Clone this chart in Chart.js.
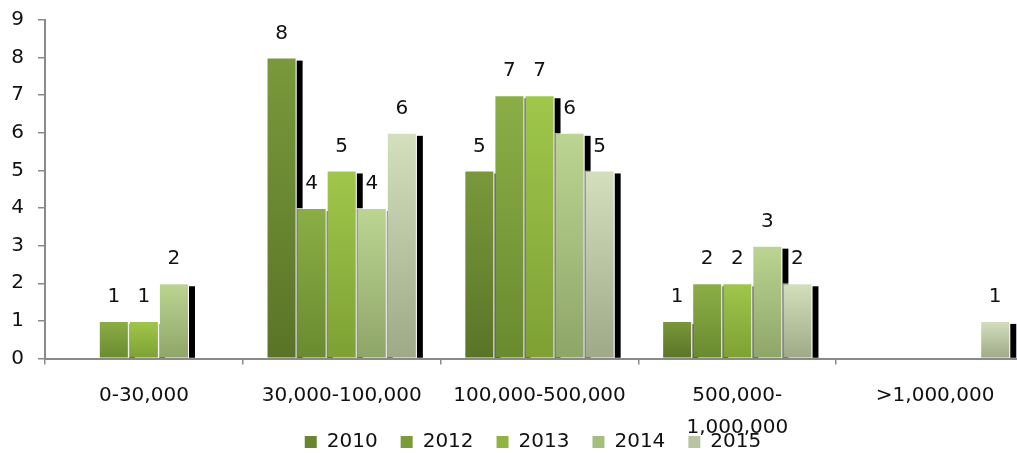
<!DOCTYPE html>
<html><head><meta charset="utf-8">
<script src="https://cdn.jsdelivr.net/npm/chart.js@4.4.0/dist/chart.umd.min.js"></script>
<style>
html,body{margin:0;padding:0;overflow:hidden;background:#fff;width:1017px;height:453px}
#wrap{position:relative;width:1060px;height:453px}
</style></head><body>
<div id="wrap"><canvas id="c"></canvas></div>
<script>
// ---- data ----
const categories = ['0-30,000', '30,000-100,000', '100,000-500,000', ['500,000-', '1,000,000'], '>1,000,000'];
const seriesNames = ['2010', '2012', '2013', '2014', '2015'];
const v2010 = [null, 8, 5, 1, null];
const v2012 = [1, 4, 7, 2, null];
const v2013 = [1, 5, 7, 2, null];
const v2014 = [2, 4, 6, 3, null];
const v2015 = [null, 6, 5, 2, 1];
const yTickMin = 0, yTickMax = 9, yTickStep = 1;

// ---- styles ----
const FONT = 'DejaVu Sans';
const FS = 20;
const topColors = ['#79993b', '#8cae46', '#a0c74b', '#bcd592', '#d4e0bd'];
const botColors = ['#5a7427', '#6a8a2f', '#7ea034', '#8ea568', '#9eaa87'];
const midColors = ['#69862f', '#7b9c3b', '#8fb440', '#a5bd7d', '#b9c5a2'];
const seriesValues = [v2010, v2012, v2013, v2014, v2015];

function gradFor(i) {
  return (ctx) => {
    if (ctx.type !== 'data') return midColors[i];
    const chart = ctx.chart;
    if (!chart.chartArea || ctx.raw == null) return midColors[i];
    const ys = chart.scales.y;
    const top = ys.getPixelForValue(ctx.raw);
    const base = ys.getPixelForValue(0);
    if (!isFinite(top) || !isFinite(base) || top === base) return midColors[i];
    const g = chart.ctx.createLinearGradient(0, top, 0, base);
    g.addColorStop(0, topColors[i]);
    g.addColorStop(1, botColors[i]);
    return g;
  };
}

const shadowPlugin = {
  id: 'barShadow',
  beforeDatasetsDraw(chart) {
    const ctx = chart.ctx;
    ctx.save();
    ctx.fillStyle = '#000';
    chart.data.datasets.forEach((ds, i) => {
      const meta = chart.getDatasetMeta(i);
      meta.data.forEach((el, j) => {
        if (ds.data[j] == null) return;
        const right = el.x + el.width / 2;
        ctx.fillRect(right, el.y + 3, 6, el.base - el.y - 3);
      });
    });
    ctx.restore();
  }
};

const labelPlugin = {
  id: 'valueLabels',
  afterDatasetsDraw(chart) {
    const ctx = chart.ctx;
    ctx.save();
    ctx.font = FS + 'px "' + FONT + '"';
    ctx.fillStyle = '#111';
    ctx.textAlign = 'center';
    ctx.textBaseline = 'middle';
    chart.data.datasets.forEach((ds, i) => {
      const meta = chart.getDatasetMeta(i);
      meta.data.forEach((el, j) => {
        const v = ds.data[j];
        if (v == null) return;
        ctx.fillText(String(v), el.x, el.y - 24);
      });
    });
    ctx.restore();
  }
};

const layoutTweak = {
  id: 'layoutTweak',
  afterLayout(chart) {
    const l = chart.legend;
    if (l) {
      const dx = 16, dy = 9;
      l.left += dx; l.right += dx; l.top += dy; l.bottom += dy;
    }
    // let the wrapped category label run past the axis box (it overlaps the legend as in the original)
    if (chart.scales.x) chart.scales.x.bottom = chart.height;
  }
};

new Chart(document.getElementById('c'), {
  type: 'bar',
  data: {
    labels: categories,
    datasets: seriesNames.map((n, i) => ({
      label: n,
      data: seriesValues[i],
      backgroundColor: gradFor(i),
      borderColor: 'rgba(255,255,255,0.75)',
      borderWidth: 1,
      categoryPercentage: 0.76,
      barPercentage: 1.0
    }))
  },
  options: {
    responsive: true,
    maintainAspectRatio: false,
    devicePixelRatio: 1,
    animation: false,
    layout: { padding: { top: 20, right: 26, left: 0, bottom: 0 } },
    plugins: {
      tooltip: { enabled: false },
      legend: {
        position: 'bottom',
        labels: {
          boxWidth: 12,
          boxHeight: 12,
          padding: 23,
          color: '#111',
          font: { family: FONT, size: FS },
          generateLabels(chart) {
            const items = Chart.defaults.plugins.legend.labels.generateLabels(chart);
            items.forEach((it, i) => { it.fillStyle = midColors[i]; it.strokeStyle = 'rgba(0,0,0,0)'; it.lineWidth = 0; });
            return items;
          }
        }
      }
    },
    scales: {
      x: {
        afterFit(scale) { scale.height = 41.5; },
        grid: { display: true, drawOnChartArea: false, offset: true, tickLength: 6, color: '#8a8a8a', lineWidth: 1.5 },
        border: { display: true, color: '#8a8a8a', width: 2 },
        ticks: { color: '#111', padding: 15, maxRotation: 0, autoSkip: false, font: { family: FONT, size: FS, lineHeight: 1.6 } }
      },
      y: {
        min: yTickMin, max: yTickMax,
        afterFit(scale) { scale.width = 45; scale.paddingTop = 10; scale.paddingBottom = 10; },
        grid: { display: true, drawOnChartArea: false, tickLength: 7, color: '#8a8a8a', lineWidth: 1.5 },
        border: { display: true, color: '#8a8a8a', width: 2 },
        ticks: { stepSize: yTickStep, color: '#111', padding: 14, font: { family: FONT, size: FS } }
      }
    }
  },
  plugins: [shadowPlugin, labelPlugin, layoutTweak]
});
</script>
</body></html>
